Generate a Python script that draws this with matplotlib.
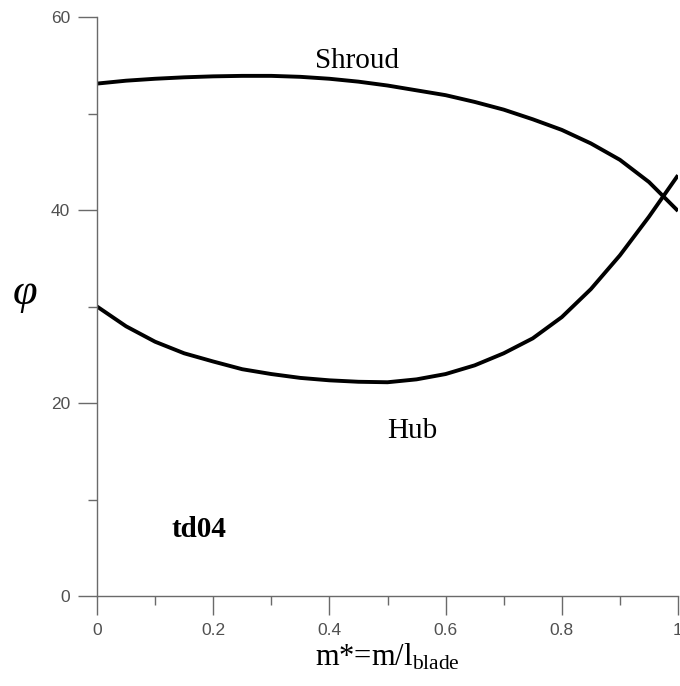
import matplotlib
matplotlib.use("Agg")
import matplotlib.pyplot as plt
from matplotlib.ticker import MultipleLocator

# Meridional position along the blade (normalised)
m_star = [0.00, 0.05, 0.10, 0.15, 0.20, 0.25, 0.30, 0.35, 0.40, 0.45, 0.50,
          0.55, 0.60, 0.65, 0.70, 0.75, 0.80, 0.85, 0.90, 0.95, 1.00]

# Blade angle phi at the shroud and at the hub
phi_shroud = [53.1, 53.4, 53.6, 53.75, 53.85, 53.9, 53.9, 53.8, 53.6, 53.3, 52.9,
              52.4, 51.9, 51.2, 50.4, 49.4, 48.3, 46.9, 45.2, 42.9, 39.9]
phi_hub = [30.0, 27.95, 26.35, 25.15, 24.3, 23.5, 23.0, 22.6, 22.35, 22.2, 22.15,
           22.45, 23.0, 23.9, 25.15, 26.7, 28.9, 31.8, 35.3, 39.3, 43.6]

x_ticks = [0, 0.2, 0.4, 0.6, 0.8, 1]
x_tick_labels = ["0", "0.2", "0.4", "0.6", "0.8", "1"]
y_ticks = [0, 20, 40, 60]

plt.rcParams["mathtext.fontset"] = "custom"
plt.rcParams["mathtext.rm"] = "Liberation Serif"
plt.rcParams["mathtext.it"] = "Liberation Serif:italic"
plt.rcParams["mathtext.bf"] = "Liberation Serif:bold"

fig = plt.figure(figsize=(6.8, 6.86), dpi=100)
ax = fig.add_axes([97 / 680, 90 / 686, 581 / 680, 579 / 686])

ax.plot(m_star, phi_shroud, color="black", lw=2.8, solid_capstyle="butt",
        solid_joinstyle="round")
ax.plot(m_star, phi_hub, color="black", lw=2.8, solid_capstyle="butt",
        solid_joinstyle="round")

ax.set_xlim(0, 1)
ax.set_ylim(0, 60)

for side in ("top", "right"):
    ax.spines[side].set_visible(False)
axis_grey = "#6a6a6a"
for side in ("left", "bottom"):
    ax.spines[side].set_color(axis_grey)
    ax.spines[side].set_linewidth(1.0)

ax.set_xticks(x_ticks)
ax.set_xticklabels(x_tick_labels)
ax.set_yticks(y_ticks)
ax.xaxis.set_minor_locator(MultipleLocator(0.1))
ax.yaxis.set_minor_locator(MultipleLocator(10))
ax.tick_params(which="major", direction="out", length=13.5, width=1.0,
               color=axis_grey, labelcolor="#505050", labelsize=12.5, pad=6)
ax.tick_params(which="minor", direction="out", length=6.5, width=1.0,
               color=axis_grey)
for lbl in ax.get_xticklabels() + ax.get_yticklabels():
    lbl.set_fontfamily("Liberation Sans")

ax.set_xlabel(r"m*=m/l$_{\mathrm{blade}}$", family="Liberation Serif",
              fontsize=22, labelpad=3)
ax.set_ylabel("φ", family="Liberation Serif", style="italic",
              fontsize=32, rotation=0, va="center", ha="center")
ax.yaxis.set_label_coords(-0.124, 0.523)

ax.text(0.4475, 54.7, "Shroud", family="Liberation Serif", fontsize=21,
        ha="center", va="baseline")
ax.text(0.542, 16.4, "Hub", family="Liberation Serif", fontsize=21,
        ha="center", va="baseline")
ax.text(0.176, 6.1, "td04", family="Liberation Serif", fontweight="bold",
        fontsize=21, ha="center", va="baseline")

fig.savefig("out.png", dpi=100)
